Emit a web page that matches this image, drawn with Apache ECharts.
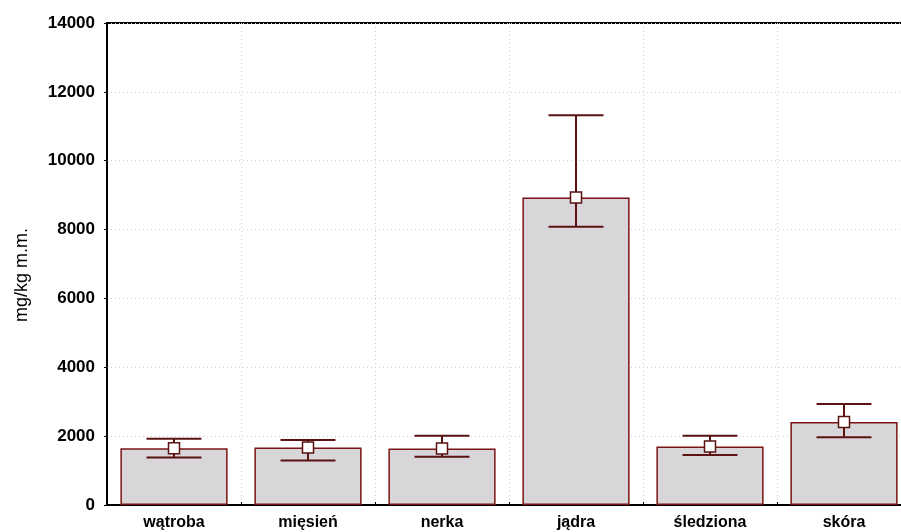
<!DOCTYPE html>
<html>
<head>
<meta charset="utf-8">
<script src="https://cdn.jsdelivr.net/npm/echarts@6/dist/echarts.min.js"></script>
<style>
  html, body { margin: 0; padding: 0; background: #fff; }
  #chart { width: 901px; height: 532px; }
</style>
</head>
<body>
<div id="chart"></div>
<script>
// Tissue categories
const categories = ['wątroba', 'mięsień', 'nerka', 'jądra', 'śledziona', 'skóra'];
// Mean concentration (mg/kg m.m.)
const means = [1650, 1670, 1640, 8930, 1700, 2410];
// Upper and lower whisker ends
const upper = [1925, 1890, 2010, 11320, 2010, 2930];
const lower = [1380, 1290, 1400, 8080, 1450, 1970];
// Y axis ticks
const yMin = 0, yMax = 14000, yStep = 2000;
const yTitle = 'mg/kg m.m.';

const chart = echarts.init(document.getElementById('chart'), null, { renderer: 'canvas' });

const font = 'Liberation Sans, Arial, sans-serif';
const barFill = '#d9d6d9';
const barEdge = '#7a1414';
const whiskerColor = '#5a1212';

const errorData = categories.map((c, i) => [i, means[i], lower[i], upper[i]]);

chart.setOption({
  animation: false,
  backgroundColor: '#ffffff',
  grid: {
    left: 107, top: 23, width: 804, bottom: 27,
    outerBoundsMode: 'none',
    containLabel: false,
    show: true, borderColor: '#000', borderWidth: 2, backgroundColor: 'transparent'
  },
  graphic: [{
    type: 'text',
    left: 13,
    top: 228,
    rotation: Math.PI / 2,
    style: { text: yTitle, fill: '#000', font: '18px ' + font }
  }],
  xAxis: {
    type: 'category',
    data: categories,
    axisLine: { lineStyle: { color: '#000', width: 2 } },
    axisTick: { show: true, inside: true, length: 3, lineStyle: { color: '#000' } },
    axisLabel: {
      color: '#000', fontFamily: font,
      fontWeight: 'bold', fontSize: 16, margin: 10
    },
    splitLine: { show: true, lineStyle: { color: '#cfcfcf', type: [1, 3], width: 1 } }
  },
  yAxis: {
    type: 'value',
    min: yMin, max: yMax, interval: yStep,
    axisLine: { show: true, lineStyle: { color: '#000', width: 2 } },
    axisTick: { show: true, length: 3, lineStyle: { color: '#000' } },
    axisLabel: {
      color: '#000', fontFamily: font,
      fontWeight: 'bold', fontSize: 17, margin: 12,
      formatter: v => String(v)
    },
    splitLine: { show: true, lineStyle: { color: '#cfcfcf', type: [1, 3], width: 1 } }
  },
  series: [
    {
      type: 'bar',
      data: means,
      barWidth: '80%',
      itemStyle: { color: barFill, borderColor: barEdge, borderWidth: 1.5 },
      z: 2
    },
    {
      type: 'custom',
      data: errorData,
      z: 5,
      renderItem: function (params, api) {
        const x = api.value(0);
        const pMean = api.coord([x, api.value(1)]);
        const pLo = api.coord([x, api.value(2)]);
        const pHi = api.coord([x, api.value(3)]);
        const band = api.size([1, 0])[0];
        const half = band * 0.205;
        const sq = 11;
        const ls = { stroke: whiskerColor, lineWidth: 2 };
        return {
          type: 'group',
          children: [
            { type: 'line', shape: { x1: pHi[0], y1: pHi[1], x2: pLo[0], y2: pLo[1] }, style: ls },
            { type: 'line', shape: { x1: pHi[0] - half, y1: pHi[1], x2: pHi[0] + half, y2: pHi[1] }, style: ls },
            { type: 'line', shape: { x1: pLo[0] - half, y1: pLo[1], x2: pLo[0] + half, y2: pLo[1] }, style: ls },
            {
              type: 'rect',
              shape: { x: pMean[0] - sq / 2, y: pMean[1] - sq / 2, width: sq, height: sq },
              style: { fill: '#fff', stroke: whiskerColor, lineWidth: 1.5 }
            }
          ]
        };
      }
    }
  ]
});
</script>
</body>
</html>
